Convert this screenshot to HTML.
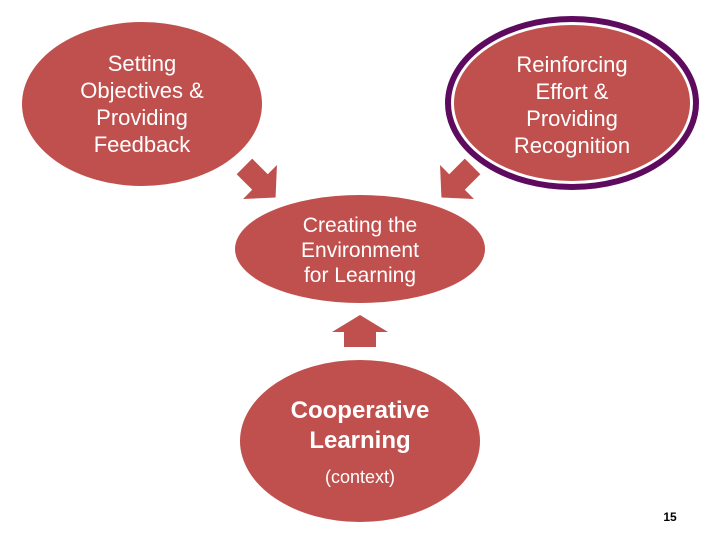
<!DOCTYPE html>
<html><head><meta charset="utf-8"><style>
html,body{margin:0;padding:0;background:#fff;}
svg{display:block}
text{font-family:"Liberation Sans",Arial,sans-serif;fill:#fff;text-anchor:middle}
</style></head><body>
<svg width="720" height="540" viewBox="0 0 720 540">
<ellipse cx="142" cy="104" rx="120" ry="82" fill="#c0504d"/>
<text font-size="22"><tspan x="142" y="71">Setting</tspan><tspan x="142" y="98">Objectives &amp;</tspan><tspan x="142" y="125">Providing</tspan><tspan x="142" y="152">Feedback</tspan></text>

<ellipse cx="572" cy="103" rx="124" ry="84" fill="#fff" stroke="#5e0a5e" stroke-width="6"/>
<ellipse cx="572" cy="103" rx="118" ry="78" fill="#c0504d"/>
<text font-size="22"><tspan x="572" y="72">Reinforcing</tspan><tspan x="572" y="99">Effort &amp;</tspan><tspan x="572" y="126">Providing</tspan><tspan x="572" y="153">Recognition</tspan></text>

<g transform="translate(260,182) rotate(-45)" fill="#c0504d"><polygon points="-11,-22 11,-22 11,0 24,0 0,22 -24,0 -11,0"/></g>
<g transform="translate(457,182) rotate(45)" fill="#c0504d"><polygon points="-11,-22 11,-22 11,0 24,0 0,22 -24,0 -11,0"/></g>

<ellipse cx="360" cy="249" rx="125" ry="54" fill="#c0504d"/>
<text font-size="21"><tspan x="360" y="232">Creating the</tspan><tspan x="360" y="257">Environment</tspan><tspan x="360" y="282">for Learning</tspan></text>

<polygon points="360,315 388,332 376,332 376,347 344,347 344,332 332,332" fill="#c0504d"/>

<ellipse cx="360" cy="441" rx="120" ry="81" fill="#c0504d"/>
<text font-size="24" font-weight="bold"><tspan x="360" y="418">Cooperative</tspan><tspan x="360" y="448">Learning</tspan></text>
<text font-size="18" x="360" y="483">(context)</text>

<text font-size="12" font-weight="bold" x="670" y="521" style="fill:#000">15</text>
</svg>
</body></html>
